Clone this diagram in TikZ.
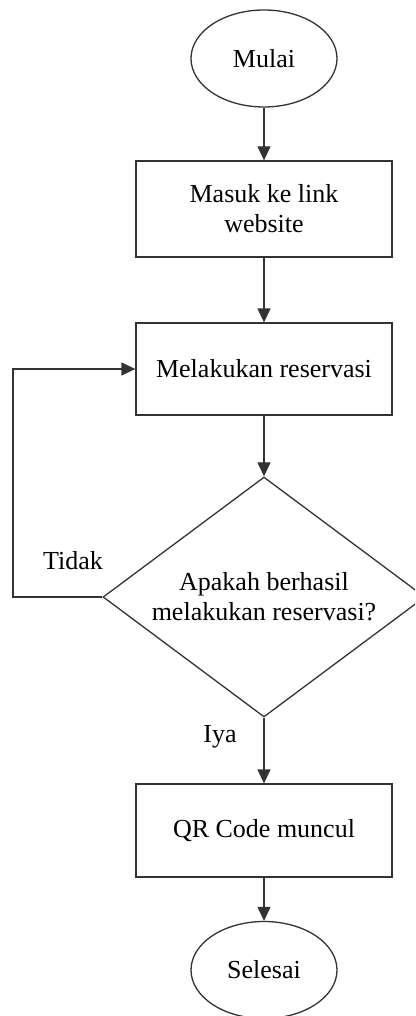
\documentclass[tikz,border=0pt]{standalone}
\usepackage{fontspec}
\setmainfont{Liberation Serif}
\usetikzlibrary{shapes.geometric,arrows.meta}
\begin{document}
\begin{tikzpicture}[x=1pt,y=-1pt,
  font=\fontsize{26}{30}\selectfont,
  every node/.style={text=black},
  line/.style={draw=black!80, line width=1.3pt},
  arrow/.style={line, -{Triangle[length=14pt,width=13pt]}},
  terminal/.style={ellipse, line, minimum width=146pt, minimum height=97pt, inner sep=0pt},
  process/.style={rectangle, line, minimum width=256pt, inner sep=0pt, align=center},
  decision/.style={diamond, line, aspect=1.34, minimum width=322pt, minimum height=240pt, inner sep=0pt, align=center}
]
\useasboundingbox (0,0) rectangle (415,1016);
\begin{scope}
\clip (0,0) rectangle (415,1016);

\node[terminal] (start) at (264,58.5) {Mulai};
\node[process, minimum height=96pt] (link) at (264,209) {Masuk ke link\\website};
\node[process, minimum height=92pt] (reserve) at (264,369) {Melakukan reservasi};
\node[decision] (check) at (264,597) {Apakah berhasil\\melakukan reservasi?};
\node[process, minimum height=93pt] (qr) at (264,830.5) {QR Code muncul};
\node[terminal] (finish) at (264,970) {Selesai};

\coordinate (loopA) at (13,597);
\coordinate (loopB) at (13,369);

\draw[arrow] (start) -- (link);
\draw[arrow] (link) -- (reserve);
\draw[arrow] (reserve) -- (check);
\draw[arrow] (check) -- (qr);
\draw[arrow] (qr) -- (finish);
\draw[arrow] (check.west) -- (loopA) -- (loopB) -- (reserve.west);

\node (no) at (73,561) {Tidak};
\node (yes) at (220,737) {Iya};
\end{scope}
\end{tikzpicture}
\end{document}
